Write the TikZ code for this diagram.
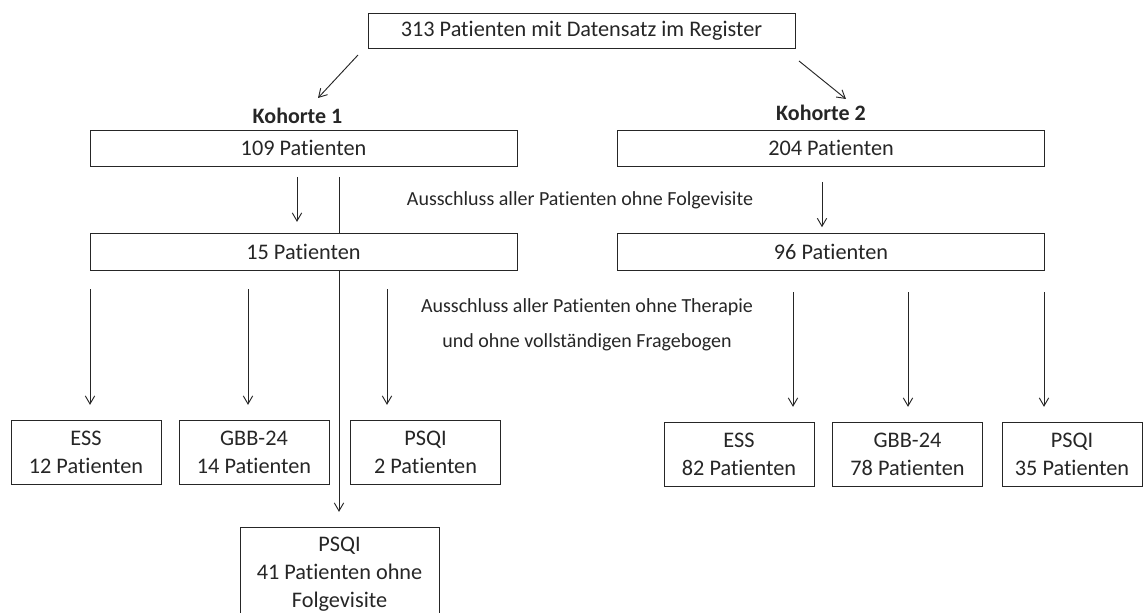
\documentclass[tikz,border=0pt]{standalone}
\usepackage{fontspec}
\setmainfont{Carlito}[Ligatures=NoCommon]
\usepackage{tikz}
\usetikzlibrary{positioning,arrows.meta}
\tikzstyle{patbox} = [draw, fill=white, minimum width=320.25pt, minimum height=27pt, inner sep=0pt, font=\fontsize{16.7}{21}\selectfont]
\tikzstyle{smallbox} = [draw, fill=white, minimum width=112.5pt, minimum height=48pt, inner sep=0pt, align=center, font=\fontsize{16.7}{21}\selectfont]
\tikzstyle{cohort} = [font=\bfseries\fontsize{16.5}{20}\selectfont]
\tikzstyle{note} = [align=center, font=\fontsize{15}{26}\selectfont]

\begin{document}
\begin{tikzpicture}[x=0.75pt, y=-0.75pt, line width=0.7pt, color=black!85, >={Straight Barb[length=6pt,width=7pt]}]
			\useasboundingbox (0,0) rectangle (1143,613);
			\clip (0,0) rectangle (1143,613);
			\node[patbox, minimum height=26.25pt] (reg) at (581.5,30.5) {313 Patienten mit Datensatz im Register};
			\node[cohort] (kh1) at (297.5,116) {Kohorte 1};
			\node[cohort] (kh2) at (821,113) {Kohorte 2};
			\node[patbox] (k1) at (303.5,148) {109 Patienten};
			\node[patbox] (k2) at (831,148) {204 Patienten};
			\node[note] (aus1) at (580,200) {Ausschluss aller Patienten ohne Folgevisite};
			\node[patbox, minimum height=27.75pt] (f1) at (303.5,251.5) {15 Patienten};
			\node[patbox, minimum height=27.75pt] (f2) at (831,251.5) {96 Patienten};
			\node[note] (aus2) at (587,324.5) {Ausschluss aller Patienten ohne Therapie\\und ohne vollständigen Fragebogen};
			\node[smallbox] (ess1) at (86,452) {ESS\\12 Patienten};
			\node[smallbox] (gbb1) at (254,452) {GBB-24\\14 Patienten};
			\node[smallbox] (psqi1) at (425.5,452) {PSQI\\2 Patienten};
			\node[smallbox] (ess2) at (739,454) {ESS\\82 Patienten};
			\node[smallbox] (gbb2) at (907.5,454) {GBB-24\\78 Patienten};
			\node[smallbox, minimum width=105pt] (psqi2) at (1072,454) {PSQI\\35 Patienten};
			\node[smallbox, minimum width=149.25pt, minimum height=70.5pt] (psqi3) at (339.5,574) {PSQI\\41 Patienten ohne\\Folgevisite};
			% arrow ends
			\coordinate (r1) at (358,55);
			\coordinate (r2) at (318,98);
			\coordinate (r3) at (799,61);
			\coordinate (r4) at (846,99);
			\coordinate (c1) at (297,177);
			\coordinate (c2) at (339,177);
			\coordinate (c3) at (822,182);
			\draw[->] (r1) -- (r2);
			\draw[->] (r3) -- (r4);
			\draw[->] (c1) -- ([yshift=8pt]f1.north -| c1);
			\draw (c2) -- (c2 |- f1.north);
			\draw[->] (c2 |- f1.south) -- ([yshift=11pt]psqi3.north -| c2);
			\draw[->] (c3) -- ([yshift=4pt]f2.north -| c3);
			\foreach \x/\n in {90/ess1, 248/gbb1, 387/psqi1}
				\draw[->] (\x,289) -- ([yshift=11pt]\n.north -| \x,0);
			\foreach \x/\n in {793/ess2, 908/gbb2, 1044/psqi2}
				\draw[->] (\x,292) -- ([yshift=11pt]\n.north -| \x,0);
		\end{tikzpicture}
\end{document}
